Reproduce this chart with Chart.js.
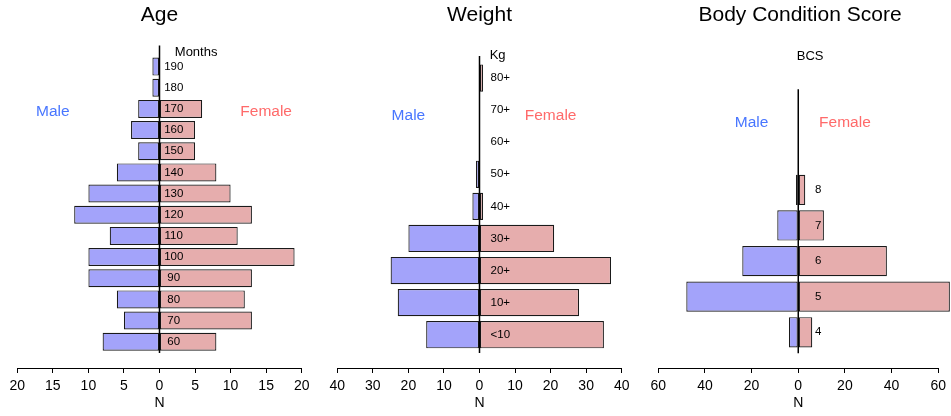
<!DOCTYPE html>
<html>
<head>
<meta charset="utf-8">
<script src="https://cdn.jsdelivr.net/npm/chart.js@4.4.1/dist/chart.umd.min.js"></script>
<style>
html, body { margin: 0; padding: 0; background: #fff; }
#wrap { position: relative; width: 951px; height: 416px; overflow: hidden; }
canvas { position: absolute; top: 0; }
</style>
</head>
<body>
<div id="wrap">
  <canvas id="c-age" width="318" height="416" style="left:0px"></canvas>
  <canvas id="c-weight" width="319" height="416" style="left:318px"></canvas>
  <canvas id="c-bcs" width="314" height="416" style="left:637px"></canvas>
</div>
<script>
"use strict";
var FONT = "'Liberation Sans', Arial, Helvetica, sans-serif";

// Age (months), bottom to top
var AGE_LABELS = ["60", "70", "80", "90", "100", "110", "120", "130", "140", "150", "160", "170", "180", "190"];
var AGE_MALE   = [8, 5, 6, 10, 10, 7, 12, 10, 6, 3, 4, 3, 1, 1];
var AGE_FEMALE = [8, 13, 12, 13, 19, 11, 13, 10, 8, 5, 5, 6, 0, 0];

// Weight (kg), bottom to top
var WEIGHT_LABELS = ["<10", "10+", "20+", "30+", "40+", "50+", "60+", "70+", "80+"];
var WEIGHT_MALE   = [15, 23, 25, 20, 2, 1, 0, 0, 0];
var WEIGHT_FEMALE = [35, 28, 37, 21, 1, 0, 0, 0, 1];

// Body condition score, bottom to top
var BCS_LABELS = ["4", "5", "6", "7", "8"];
var BCS_MALE   = [4, 48, 24, 9, 1];
var BCS_FEMALE = [6, 65, 38, 11, 3];

var MALE_FILL = "#a3a3fa", FEMALE_FILL = "#e6adad";
var MALE_TEXT = "#4876ff", FEMALE_TEXT = "#ff6a6a";

Chart.defaults.font.family = FONT;
Chart.defaults.color = "#000";

// centre axis, category labels, unit and sex captions
var pyramidDecor = {
  id: "pyramidDecor",
  afterDatasetsDraw: function(chart) {
    var o = chart.options.plugins.pyramidDecor;
    var xs = chart.scales.x, ys = chart.scales.y, ctx = chart.ctx;
    var x0 = xs.getPixelForValue(0);
    ctx.save();
    ctx.strokeStyle = "#000";
    ctx.lineWidth = 1.5;
    ctx.beginPath();
    ctx.moveTo(x0, ys.getPixelForValue(o.axisFrom));
    ctx.lineTo(x0, ys.getPixelForValue(o.axisTo));
    ctx.stroke();

    ctx.fillStyle = "#000";
    ctx.textAlign = "center";
    ctx.textBaseline = "middle";
    ctx.font = "11.5px " + FONT;
    o.labels.forEach(function(l, i) {
      ctx.fillText(l, xs.getPixelForValue(o.labelX), ys.getPixelForValue(i));
    });
    ctx.font = "13px " + FONT;
    ctx.fillText(o.unit, xs.getPixelForValue(o.unitX), ys.getPixelForValue(o.unitY));

    ctx.font = "15.5px " + FONT;
    ctx.fillStyle = MALE_TEXT;
    ctx.fillText("Male", xs.getPixelForValue(-o.sexX), ys.getPixelForValue(o.sexY));
    ctx.fillStyle = FEMALE_TEXT;
    ctx.fillText("Female", xs.getPixelForValue(o.sexX), ys.getPixelForValue(o.sexY));
    ctx.restore();
  }
};

function toPoints(values, sign) {
  return values.map(function(v, i) { return { x: sign * v, y: i }; });
}

function makePyramid(id, p) {
  var bar = {
    borderColor: "#1a1a1a",
    borderWidth: 1.2,
    borderSkipped: false,
    grouped: false,
    categoryPercentage: 0.85,
    barPercentage: 1,
    clip: false
  };
  return new Chart(document.getElementById(id), {
    type: "bar",
    data: {
      datasets: [
        Object.assign({ label: "Male", data: toPoints(p.male, -1), backgroundColor: MALE_FILL }, bar),
        Object.assign({ label: "Female", data: toPoints(p.female, 1), backgroundColor: FEMALE_FILL }, bar)
      ]
    },
    options: {
      indexAxis: "y",
      responsive: false,
      animation: false,
      events: [],
      layout: { padding: { left: p.padLeft, right: p.padRight, top: 0, bottom: 0 } },
      scales: {
        x: {
          type: "linear",
          min: -p.max, max: p.max,
          afterFit: function(s) { s.height = 48; },
          ticks: {
            stepSize: p.step,
            padding: 5,
            font: { size: 14 },
            color: "#000",
            callback: function(v) { return Math.abs(v); }
          },
          grid: { drawOnChartArea: false, drawTicks: true, tickLength: 5, color: "#000" },
          border: { display: true, color: "#000", width: 1 },
          title: { display: true, text: "N", font: { size: 14 }, color: "#000", padding: { top: 0, bottom: 4.6 } }
        },
        y: {
          type: "linear",
          display: false,
          min: p.yMin, max: p.yMax,
          afterBuildTicks: function(s) { s.ticks = []; }
        }
      },
      plugins: {
        legend: { display: false },
        tooltip: { enabled: false },
        title: {
          display: true,
          text: p.title,
          color: "#000",
          font: { size: 21, weight: "normal" },
          padding: { top: 3, bottom: 16.8 }
        },
        pyramidDecor: {
          labels: p.labels, labelX: p.labelX,
          axisFrom: p.axisFrom, axisTo: p.axisTo,
          unit: p.unit, unitX: p.unitX, unitY: p.unitY,
          sexX: p.sexX, sexY: p.sexY
        }
      }
    },
    plugins: [pyramidDecor]
  });
}

makePyramid("c-age", {
  title: "Age", labels: AGE_LABELS, male: AGE_MALE, female: AGE_FEMALE,
  max: 20, step: 5, padLeft: 17.3, padRight: 16.3,
  yMin: -1.242, yMax: 14.02, axisFrom: -0.53, axisTo: 14.0,
  labelX: 2.0, unit: "Months", unitX: 5.15, unitY: 13.68,
  sexX: 15, sexY: 10.88
});

makePyramid("c-weight", {
  title: "Weight", labels: WEIGHT_LABELS, male: WEIGHT_MALE, female: WEIGHT_FEMALE,
  max: 40, step: 10, padLeft: 19.3, padRight: 15.3,
  yMin: -1.038, yMax: 9.03, axisFrom: -0.57, axisTo: 8.69,
  labelX: 5.85, unit: "Kg", unitX: 5.1, unitY: 8.72,
  sexX: 20, sexY: 6.82
});

makePyramid("c-bcs", {
  title: "Body Condition Score", labels: BCS_LABELS, male: BCS_MALE, female: BCS_FEMALE,
  max: 60, step: 20, padLeft: 21.3, padRight: 9.3,
  yMin: -1.003, yMax: 8.07, axisFrom: -0.59, axisTo: 6.83,
  labelX: 8.6, unit: "BCS", unitX: 5.1, unitY: 7.74,
  sexX: 20, sexY: 5.89
});
</script>
</body>
</html>
